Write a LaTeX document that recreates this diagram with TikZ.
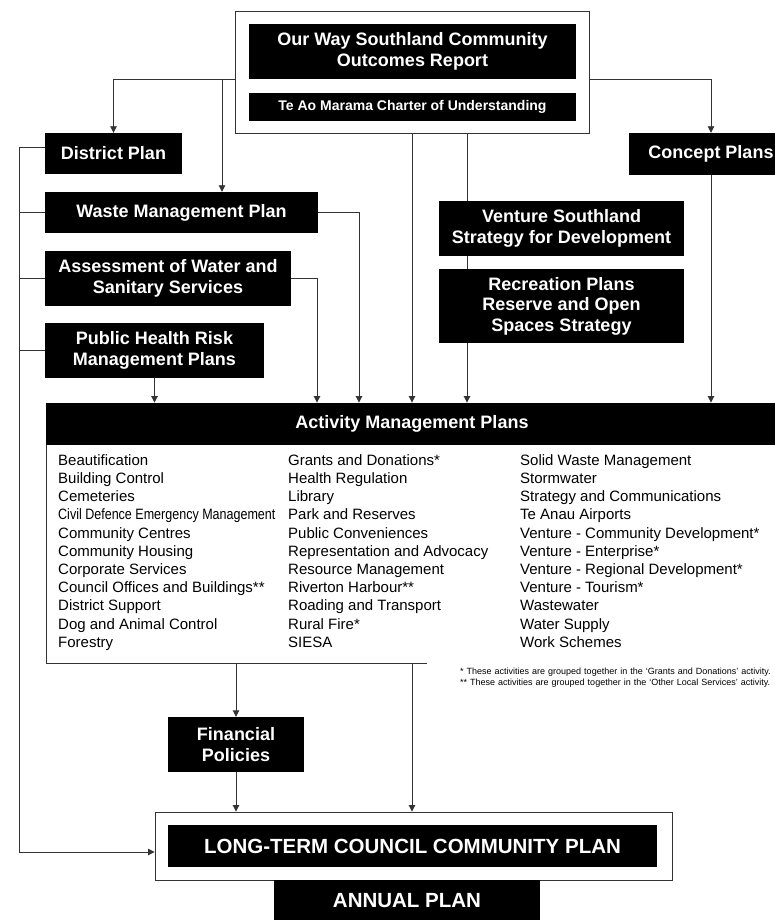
\documentclass[tikz,border=0pt]{standalone}
\usepackage{fontspec}
\setmainfont{Liberation Sans}
\usetikzlibrary{arrows.meta}
\tikzset{
  blackbox/.style  = {fill=black,text=white,align=center,inner sep=0pt,
                      font=\bfseries\fontsize{18}{20.5}\selectfont},
  framebox/.style  = {draw=black!80,line width=0.9pt,fill=white,inner sep=0pt},
  link/.style      = {draw=black!80,line width=0.9pt},
  arr/.style       = {-{Triangle[length=6.5pt,width=6.5pt]},draw=black!80,line width=0.9pt},
  item/.style      = {anchor=west,inner sep=0pt,text height=10.7pt,text depth=0pt,
                      font=\fontsize{15}{18}\selectfont},
  footnote/.style  = {anchor=north west,align=left,text width=352pt,inner xsep=1pt,
                      inner ysep=8pt,fill=white,font=\fontsize{9}{11}\selectfont}
}

\begin{document}
\begin{tikzpicture}[x=1pt,y=-1pt]
  \useasboundingbox (0,0) rectangle (775,920);

  \node[framebox,minimum width=354pt,minimum height=122pt] (tbox) at (412,72) {};
  \node[blackbox,minimum width=327pt,minimum height=55pt] (ourway) at (412.5,51.5)
    {Our Way Southland Community\\Outcomes Report};
  \node[blackbox,minimum width=327pt,minimum height=28pt,
        font=\bfseries\fontsize{14}{16}\selectfont] (teao) at (412.5,107)
    {Te Ao Marama Charter of Understanding};

  \node[blackbox,minimum width=137pt,minimum height=41pt] (dp) at (113.5,153.5) {District Plan};
  \node[blackbox,minimum width=273pt,minimum height=41pt] (wm) at (181.5,212.5) {Waste Management Plan};
  \node[blackbox,minimum width=246pt,minimum height=55pt] (as) at (168,278.5)
    {Assessment of Water and\\Sanitary Services};
  \node[blackbox,minimum width=219pt,minimum height=55pt] (ph) at (154.5,350.5)
    {Public Health Risk\\Management Plans};
  \node[blackbox,minimum width=164pt,minimum height=42pt] (cp) at (711,154) {Concept Plans};
  \node[blackbox,minimum width=245pt,minimum height=55pt] (vs) at (561.5,228.5)
    {Venture Southland\\Strategy for Development};
  \node[blackbox,minimum width=245pt,minimum height=74pt] (rp) at (561.5,306)
    {Recreation Plans\\Reserve and Open\\Spaces Strategy};

  \node[framebox,minimum width=732pt,minimum height=260pt] (amp) at (412,533) {};
  \node[blackbox,minimum width=732pt,minimum height=42pt] (amphead) at (412,424)
    {Activity Management Plans};

  \foreach \t [count=\i from 0] in {Beautification,Building Control,Cemeteries,
      {\scalebox{0.835}[1]{Civil Defence Emergency Management}},Community Centres,
      Community Housing,Corporate Services,Council Offices and Buildings**,
      District Support,Dog and Animal Control,Forestry}
    \node[item] (cola\i) at (58,{460+18.2*\i}) {\t};
  \foreach \t [count=\i from 0] in {Grants and Donations*,Health Regulation,Library,
      Park and Reserves,Public Conveniences,Representation and Advocacy,
      Resource Management,Riverton Harbour**,Roading and Transport,Rural Fire*,SIESA}
    \node[item] (colb\i) at (288,{460+18.2*\i}) {\t};
  \foreach \t [count=\i from 0] in {Solid Waste Management,Stormwater,
      Strategy and Communications,Te Anau Airports,Venture - Community Development*,
      Venture - Enterprise*,Venture - Regional Development*,Venture - Tourism*,
      Wastewater,Water Supply,Work Schemes}
    \node[item] (colc\i) at (520,{460+18.2*\i}) {\t};

  \node[footnote] (note) at (427,660)
    {\hspace*{32pt}* These activities are grouped together in the ‘Grants and Donations’ activity.\\
     \hspace*{32pt}** These activities are grouped together in the ‘Other Local Services’ activity.};

  \node[blackbox,minimum width=136pt,minimum height=55pt] (fp) at (236,744.5)
    {Financial\\Policies};
  \node[framebox,minimum width=517pt,minimum height=68pt] (lt) at (413.5,846) {};
  \node[blackbox,minimum width=489pt,minimum height=42pt,
        font=\bfseries\fontsize{20.5}{22}\selectfont] (ltin) at (412.5,846)
    {LONG-TERM COUNCIL COMMUNITY PLAN};
  \node[blackbox,minimum width=266pt,minimum height=42pt,
        font=\bfseries\fontsize{20.5}{22}\selectfont] (ap) at (407,901) {ANNUAL PLAN};

  \coordinate (tl) at ([yshift=-7pt]tbox.west);
  \coordinate (tr) at ([yshift=-7pt]tbox.east);
  \coordinate (wmin) at ([xshift=40.5pt]wm.north);
  \coordinate (mid) at ([xshift=55pt]tbox.south);
  \coordinate (tk) at (19,147);

  \draw[arr] (tl) -| (dp.north);
  \draw[arr] (tl -| wmin) -- (wmin);
  \draw[arr] (tr) -| (cp.north);
  \draw[arr] (tbox.south) -- (tbox.south |- amp.north);
  \draw[link] (mid) -- (mid |- vs.north);
  \draw[link] (mid |- vs.south) -- (mid |- rp.north);
  \draw[arr] (mid |- rp.south) -- (mid |- amp.north);
  \draw[arr] (wm.east) -| ([xshift=-53pt]amp.north);
  \draw[arr] (as.east) -| ([xshift=-95pt]amp.north);
  \draw[arr] (ph.south) -- (ph.south |- amp.north);
  \draw[arr] (cp.south) -- (cp.south |- amp.north);

  \draw[link] (wm.west) -- (wm.west -| tk);
  \draw[link] (as.west) -- (as.west -| tk);
  \draw[link] (ph.west) -- (ph.west -| tk);
  \draw[arr] ([yshift=6.5pt]dp.west) -- (tk) |- ([yshift=-6pt]lt.west);

  \draw[arr] (fp.north |- amp.south) -- (fp.north);
  \draw[arr] (fp.south) -- (fp.south |- lt.north);
  \draw[arr] (tbox.south |- amp.south) -- (tbox.south |- lt.north);
\end{tikzpicture}
\end{document}
